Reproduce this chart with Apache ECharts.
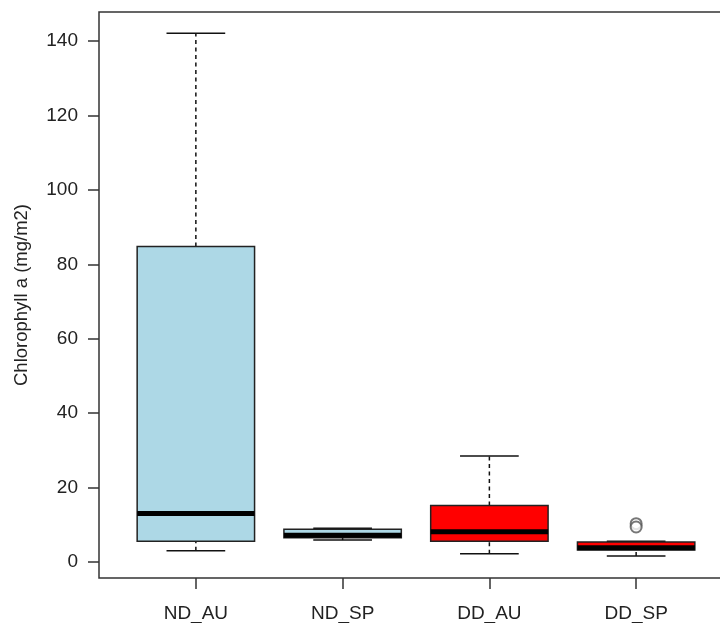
<!DOCTYPE html>
<html>
<head>
<meta charset="utf-8">
<script src="https://cdn.jsdelivr.net/npm/echarts@6/dist/echarts.min.js"></script>
<style>
html,body{margin:0;padding:0;background:#fff;}
#chart{width:720px;height:623px;}
</style>
</head>
<body>
<div id="chart"></div>
<script>
// ---- data ----
var categories = ['ND_AU', 'ND_SP', 'DD_AU', 'DD_SP'];
var whiskerLow  = [3.0, 5.9, 2.2, 1.6];
var q1          = [5.6, 6.5, 5.6, 3.2];
var median      = [13.0, 7.2, 8.1, 3.8];
var q3          = [84.8, 8.8, 15.2, 5.4];
var whiskerHigh = [142.1, 9.1, 28.5, 5.6];
var boxColors   = ['#ADD8E6', '#ADD8E6', '#FF0000', '#FF0000'];
var outlierGroup = [4, 4];
var outlierValue = [10.3, 9.4];
var yTicks = [0, 20, 40, 60, 80, 100, 120, 140];
var xTicks = [1, 2, 3, 4];

var boxData = categories.map(function (c, i) {
  return [i + 1, whiskerLow[i], q1[i], median[i], q3[i], whiskerHigh[i], i];
});
var outlierData = outlierGroup.map(function (g, i) { return [g, outlierValue[i]]; });

var FONT = '"Liberation Sans", Arial, sans-serif';
var chart = echarts.init(document.getElementById('chart'), null, {renderer: 'canvas'});

function renderBox(params, api) {
  var x = api.value(0);
  var lo = api.value(1), a = api.value(2), m = api.value(3), b = api.value(4), hi = api.value(5);
  var idx = api.value(6);
  var hw = 0.4, cw = 0.2;
  function P(xx, yy) { return api.coord([xx, yy]); }
  var pl = P(x - hw, b), pr = P(x + hw, a);
  var black = '#111';
  var children = [];
  // whiskers (dashed)
  children.push({type: 'line', shape: {x1: P(x, b)[0], y1: P(x, b)[1], x2: P(x, hi)[0], y2: P(x, hi)[1]},
    style: {stroke: black, lineWidth: 1.5, lineDash: [4, 3.5]}});
  children.push({type: 'line', shape: {x1: P(x, lo)[0], y1: P(x, lo)[1], x2: P(x, a)[0], y2: P(x, a)[1]},
    style: {stroke: black, lineWidth: 1.5, lineDash: [4, 3.5]}});
  // caps
  children.push({type: 'line', shape: {x1: P(x - cw, hi)[0], y1: P(x - cw, hi)[1], x2: P(x + cw, hi)[0], y2: P(x + cw, hi)[1]},
    style: {stroke: black, lineWidth: 1.5}});
  children.push({type: 'line', shape: {x1: P(x - cw, lo)[0], y1: P(x - cw, lo)[1], x2: P(x + cw, lo)[0], y2: P(x + cw, lo)[1]},
    style: {stroke: black, lineWidth: 1.5}});
  // box
  children.push({type: 'rect', shape: {x: pl[0], y: pl[1], width: pr[0] - pl[0], height: pr[1] - pl[1]},
    style: {fill: boxColors[idx], stroke: '#222', lineWidth: 1.5}});
  // median
  children.push({type: 'line', shape: {x1: P(x - hw, m)[0], y1: P(x - hw, m)[1], x2: P(x + hw, m)[0], y2: P(x + hw, m)[1]},
    style: {stroke: '#000', lineWidth: 5}});
  return {type: 'group', children: children};
}

var option = {
  animation: false,
  backgroundColor: '#fff',
  grid: {left: 99, top: 12, width: 634, height: 566, outerBoundsMode: 'none', containLabel: false,
    show: true, borderColor: '#333', borderWidth: 1.5, backgroundColor: 'transparent'},
  xAxis: {
    type: 'value', min: 0.34, max: 4.66,
    axisLine: {show: false, onZero: false},
    splitLine: {show: false},
    axisTick: {show: true, customValues: xTicks, length: 11, lineStyle: {color: '#333', width: 1.5}},
    axisLabel: {show: true, customValues: xTicks, margin: 26, fontSize: 19, color: '#222', fontFamily: FONT,
      formatter: function (v) { return categories[Math.round(v) - 1] || ''; }}
  },
  yAxis: {
    type: 'value', min: -4.3, max: 147.8,
    name: 'Chlorophyll a (mg/m2)', nameLocation: 'middle', nameGap: 68, nameRotate: 90,
    nameTextStyle: {fontSize: 18.5, color: '#222', fontFamily: FONT},
    axisLine: {show: false, onZero: false},
    splitLine: {show: false},
    axisTick: {show: true, customValues: yTicks, length: 11, lineStyle: {color: '#333', width: 1.5}},
    axisLabel: {show: true, customValues: yTicks, margin: 21, fontSize: 19, color: '#222', fontFamily: FONT}
  },
  series: [
    {type: 'custom', renderItem: renderBox, data: boxData, encode: {x: 0, y: [1, 5]}, clip: false},
    {type: 'scatter', data: outlierData, symbol: 'emptyCircle', symbolSize: 11,
      itemStyle: {color: '#555', borderColor: '#555', borderWidth: 1.2}}
  ]
};
chart.setOption(option);
</script>
</body>
</html>
